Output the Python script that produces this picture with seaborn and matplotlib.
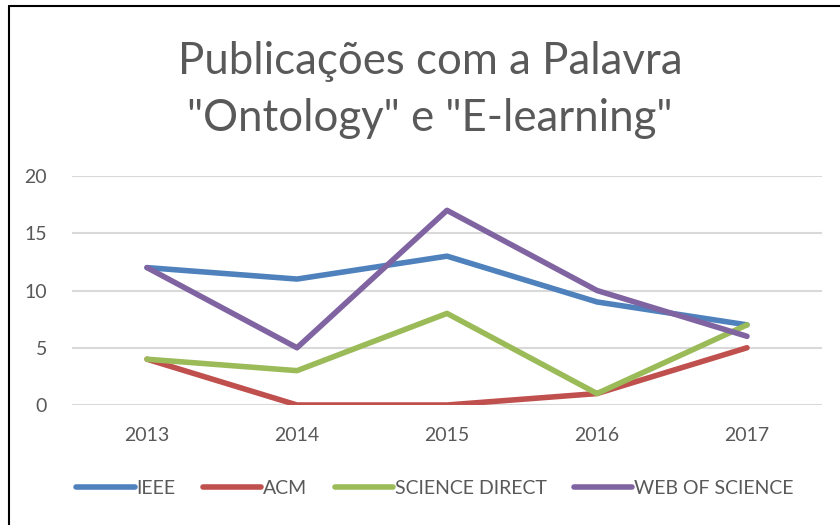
import matplotlib
matplotlib.use("Agg")
import matplotlib.pyplot as plt
from matplotlib.lines import Line2D
import seaborn as sb
import pandas as pd

# data
anos = ["2013", "2014", "2015", "2016", "2017"]
ieee = [12, 11, 13, 9, 7]
acm = [4, 0, 0, 1, 5]
science_direct = [4, 3, 8, 1, 7]
web_of_science = [12, 5, 17, 10, 6]

series = {"IEEE": ieee, "ACM": acm, "SCIENCE DIRECT": science_direct,
          "WEB OF SCIENCE": web_of_science}
cores = ["#4F81BD", "#C0504D", "#9BBB59", "#8064A2"]
cinza = "#595959"

rows = []
for nome, vals in series.items():
    for ano, v in zip(anos, vals):
        rows.append({"ano": ano, "valor": v, "base": nome})
df = pd.DataFrame(rows)

sb.set_style("white")
plt.rcParams["font.family"] = ["Lato", "DejaVu Sans"]

fig = plt.figure(figsize=(8.4, 5.25), dpi=100)
ax = fig.add_axes([72 / 840, 1 - 405 / 525, 750 / 840, 229 / 525])

sb.lineplot(data=df, x="ano", y="valor", hue="base", palette=cores,
            linewidth=4, ax=ax, legend=False, sort=False,
            solid_capstyle="round", solid_joinstyle="round")

ax.set_xlim(-0.5, 4.5)
ax.set_ylim(0, 20)
ax.set_yticks([0, 5, 10, 15, 20])
ax.yaxis.grid(True, color="#D9D9D9", linewidth=1.5)
ax.set_axisbelow(True)
for s in ax.spines.values():
    s.set_visible(False)
ax.set_xlabel("")
ax.set_ylabel("")
ax.tick_params(axis="both", length=0, labelsize=14, colors=cinza)
ax.tick_params(axis="x", pad=16)
ax.tick_params(axis="y", pad=18)

fig.text(0.512, 1 - 90 / 525, "Publicações com a Palavra\n\"Ontology\" e \"E-learning\"",
         ha="center", va="center", fontsize=31.5, color=cinza, linespacing=1.5)

handles = [Line2D([0], [0], color=c, linewidth=4, solid_capstyle="round")
           for c in cores]
fig.legend(handles, list(series.keys()), loc="center", ncol=4,
           bbox_to_anchor=(0.518, 1 - 488 / 525), frameon=False,
           fontsize=14, labelcolor=cinza, handlelength=3.0,
           handletextpad=0.1, columnspacing=1.4)

# moldura (left and top edges visible in the crop)
fig.add_artist(Line2D([9 / 840, 9 / 840], [0, 1 - 6 / 525], color="black",
                      linewidth=1.5, transform=fig.transFigure))
fig.add_artist(Line2D([9 / 840, 1], [1 - 6 / 525, 1 - 6 / 525], color="black",
                      linewidth=1.5, transform=fig.transFigure))

fig.savefig("out.png", dpi=100)
